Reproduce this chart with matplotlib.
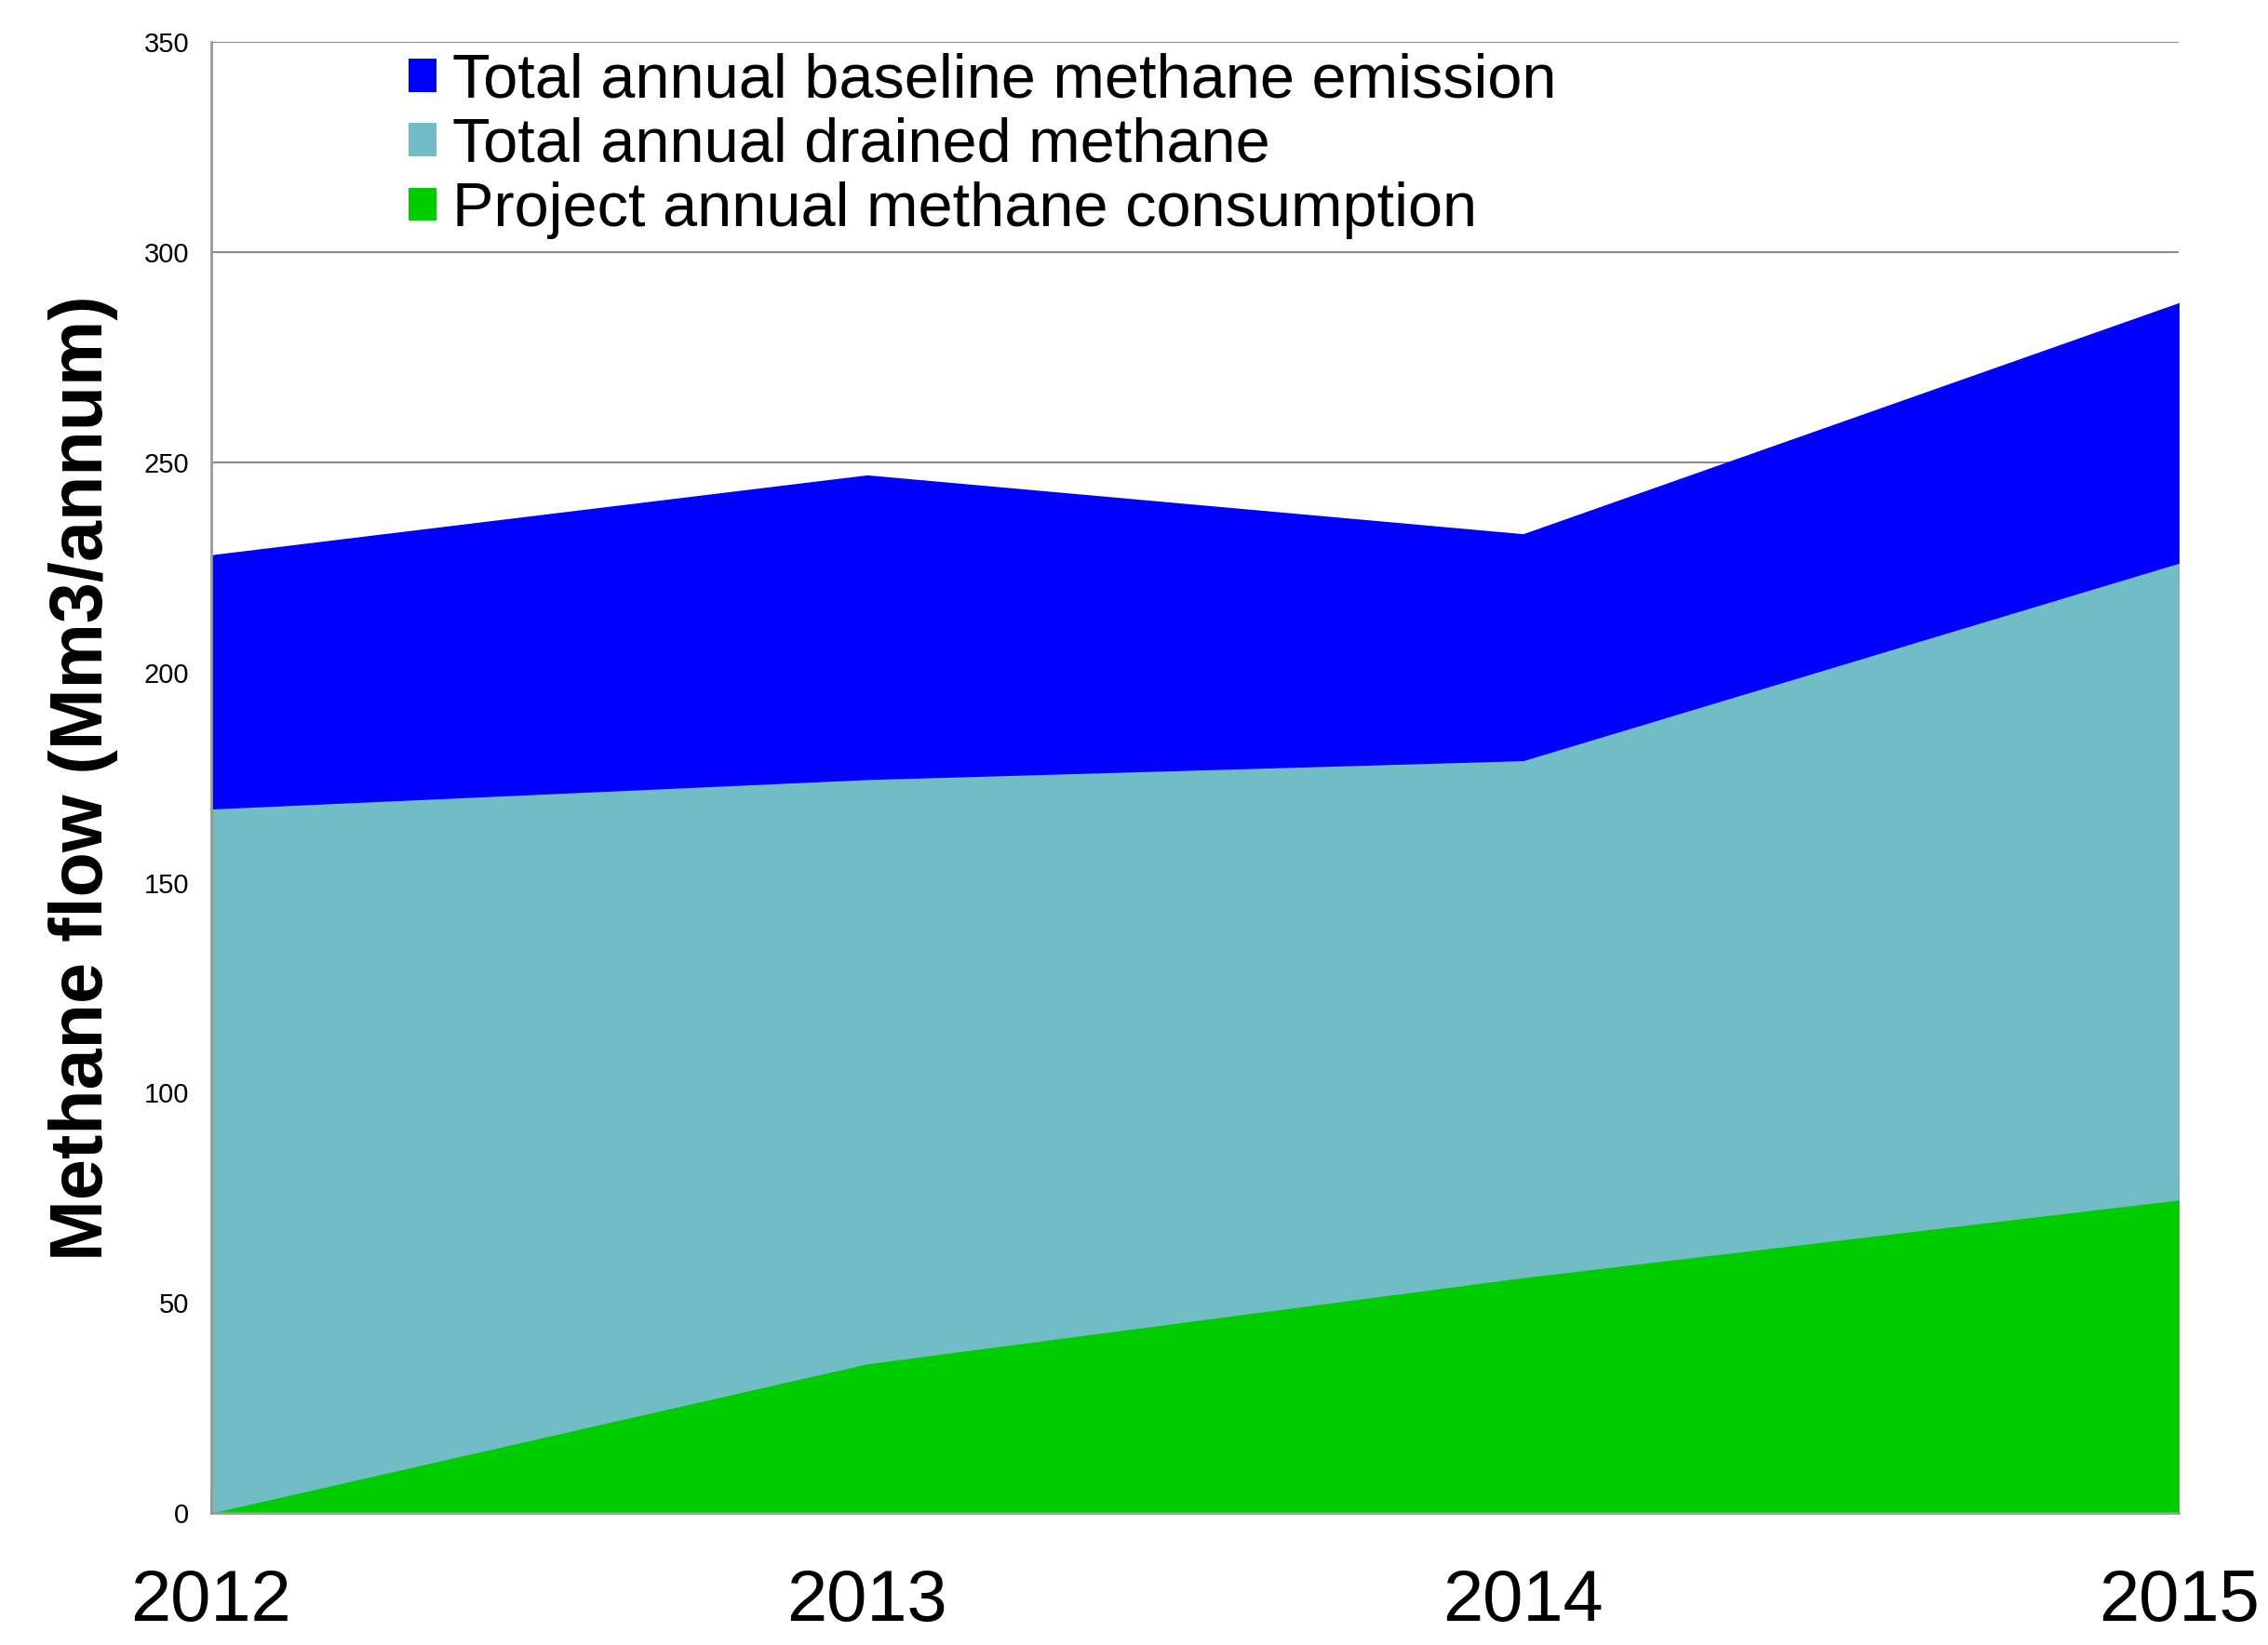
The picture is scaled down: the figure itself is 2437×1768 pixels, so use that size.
import matplotlib.pyplot as plt

years = [2012, 2013, 2014, 2015]
baseline = [228, 247, 233, 288]
drained = [167.5, 174.5, 179, 226]
consumption = [0, 35.5, 56, 74.5]

labels = ['Total annual baseline methane emission',
          'Total annual drained methane',
          'Project annual methane consumption']
colors = ['#0000FF', '#72BDC5', '#00CC00']

plt.rcParams['font.family'] = ['Liberation Sans', 'DejaVu Sans']

fig = plt.figure(figsize=(24.37, 17.68), dpi=100)
ax = fig.add_axes([0.0931, 0.0802, 0.8677, 0.8943])

# overlapping areas, drawn from the biggest to the smallest
for vals, col, lab in zip([baseline, drained, consumption], colors, labels):
    ax.fill_between(years, 0, vals, color=col, label=lab, linewidth=0, zorder=2)

ax.set_xlim(years[0], years[-1])
ax.set_ylim(0, 350)
ax.set_yticks(range(0, 351, 50))
ax.set_xticks(years)
ax.set_xticklabels([str(y) for y in years], fontsize=56)
ax.tick_params(axis='y', length=0, pad=17, labelsize=21)
ax.tick_params(axis='x', direction='in', length=16, width=1.2, color='#999999', pad=42)
ax.grid(True, axis='y', color='#8c8c8c', linewidth=1.5, zorder=0)
ax.set_axisbelow(True)

for s in ['top', 'right']:
    ax.spines[s].set_visible(False)
for s in ['left', 'bottom']:
    ax.spines[s].set_color('#999999')
    ax.spines[s].set_linewidth(2)
    ax.spines[s].set_zorder(3)

ax.set_ylabel('Methane flow (Mm3/annum)', fontsize=57, fontweight='bold', labelpad=20)

fig.legend(loc='upper left', bbox_to_anchor=(0.180, 0.968), frameon=False,
           fontsize=48, handlelength=0.45, handleheight=0.45, handletextpad=0.26,
           labelspacing=0.11, borderpad=0, borderaxespad=0)

fig.savefig('out.png', dpi=100)
